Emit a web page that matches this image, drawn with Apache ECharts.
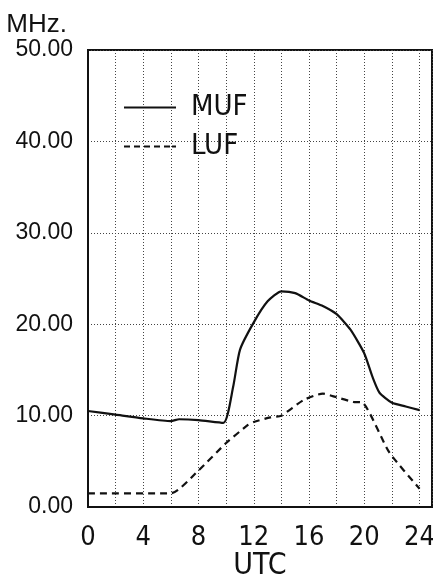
<!DOCTYPE html>
<html>
<head>
<meta charset="utf-8">
<script src="https://cdn.jsdelivr.net/npm/echarts@6/dist/echarts.min.js"></script>
<style>
html,body{margin:0;padding:0;background:#fff;}
#chart{width:433px;height:576px;}
</style>
</head>
<body>
<div id="chart"></div>
<script>
// UTC hours and frequencies (MHz)
var mufHours = [0, 2, 4, 6, 6.6, 8, 9.8, 10.5, 11, 12, 13, 14, 15, 16, 17, 18, 19, 20, 20.6, 21.1, 22, 23, 24];
var mufValues = [10.5, 10.1, 9.7, 9.4, 9.6, 9.5, 9.2, 13.1, 17.2, 20.2, 22.5, 23.6, 23.4, 22.6, 22.0, 21.1, 19.4, 16.8, 14.2, 12.5, 11.4, 11.0, 10.6];
var lufHours = [0, 6, 8, 10, 11.6, 12, 13.2, 14, 15.6, 17, 18, 19.2, 19.9, 21.8, 24];
var lufValues = [1.5, 1.5, 4.0, 7.0, 9.0, 9.3, 9.8, 10.0, 11.7, 12.4, 12.0, 11.5, 11.4, 6.0, 2.0];
var xTicks = [0, 4, 8, 12, 16, 20, 24];

function pairs(xs, ys) {
  var out = [];
  for (var i = 0; i < xs.length; i++) out.push([xs[i], ys[i]]);
  return out;
}

var narrow = "'DejaVu Sans Condensed', 'Liberation Sans', sans-serif";
var dotted = { color: '#444', width: 1, type: [1, 2] };

var option = {
  animation: false,
  backgroundColor: '#fff',
  grid: {
    left: 88, right: 1, top: 50, bottom: 69,
    containLabel: false, outerBoundsMode: 'none',
    show: true, borderColor: '#111', borderWidth: 2
  },
  legend: {
    data: [
      { name: 'MUF', icon: 'path://M0,0H52V2H0Z' },
      { name: 'LUF', icon: 'path://M0,0H6V2H0ZM10,0H16V2H10ZM20,0H26V2H20ZM30,0H36V2H30ZM40,0H46V2H40ZM48,0H52V2H48Z' }
    ],
    orient: 'vertical',
    left: 119, top: 88,
    itemWidth: 52, itemHeight: 2,
    itemGap: 10,
    itemStyle: { color: '#111' },
    textStyle: {
      color: '#111', fontSize: 29, fontFamily: narrow,
      lineHeight: 28, padding: [0, 0, 0, 10]
    }
  },
  xAxis: {
    type: 'value',
    min: 0, max: 24.9, interval: 2,
    name: 'UTC', nameLocation: 'middle', nameGap: 44, nameMoveOverlap: false,
    nameTextStyle: { color: '#111', fontSize: 30, fontFamily: narrow },
    axisLine: { lineStyle: { color: '#111', width: 2 } },
    axisTick: { show: false },
    axisLabel: {
      color: '#111', fontSize: 27, fontFamily: narrow, margin: 17,
      showMaxLabel: false,
      formatter: function (v) { return xTicks.indexOf(v) >= 0 ? String(v) : ''; }
    },
    splitLine: { show: true, lineStyle: dotted }
  },
  yAxis: {
    type: 'value',
    min: 0, max: 50, interval: 10,
    name: 'MHz.', nameLocation: 'end', nameGap: 12,
    nameTextStyle: { color: '#111', fontSize: 26, fontFamily: 'Liberation Sans', align: 'right', padding: [0, 21, 0, 0] },
    axisLine: { show: true, lineStyle: { color: '#111', width: 2 } },
    axisTick: { show: false },
    axisLabel: {
      color: '#111', fontSize: 23, fontFamily: 'Liberation Sans', margin: 15,
      formatter: function (v) { return v.toFixed(2); }
    },
    splitLine: { show: true, lineStyle: dotted }
  },
  series: [
    {
      name: 'MUF', type: 'line', symbol: 'none', smooth: 0.2,
      data: pairs(mufHours, mufValues),
      lineStyle: { color: '#111', width: 2.2, type: 'solid' },
      itemStyle: { color: '#111' }
    },
    {
      name: 'LUF', type: 'line', symbol: 'none', smooth: 0.2,
      data: pairs(lufHours, lufValues),
      lineStyle: { color: '#111', width: 2.2, type: [7, 5] },
      itemStyle: { color: '#111' }
    }
  ]
};

var chart = echarts.init(document.getElementById('chart'));
chart.setOption(option);
</script>
</body>
</html>
